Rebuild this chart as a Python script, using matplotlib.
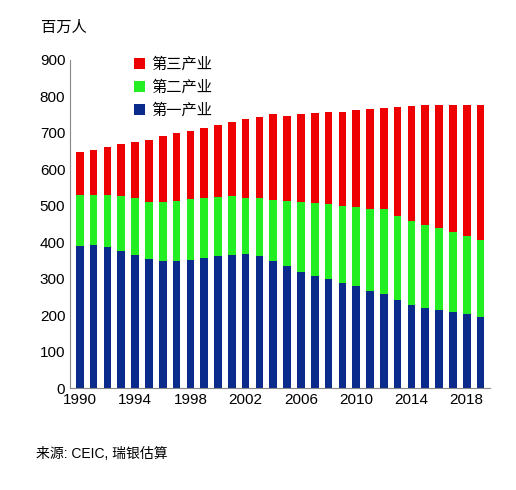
import matplotlib
matplotlib.use("Agg")
import matplotlib.pyplot as plt
import numpy as np

plt.rcParams['font.family'] = ['Liberation Sans', 'Noto Sans CJK SC']

years = list(range(1990, 2020))
total = [647, 654, 661, 668, 674, 680, 690, 698, 706, 714, 721, 730, 737, 744, 752,
         746, 750, 754, 756, 758, 761, 764, 767, 770, 772, 775, 776, 777, 776, 775]
primary = [389, 391, 387, 377, 366, 355, 348, 348, 352, 357, 361, 365, 368, 362, 348,
           335, 319, 308, 299, 289, 279, 266, 258, 241, 228, 219, 215, 209, 203, 194]
sec_top = [529, 530, 530, 526, 522, 511, 509, 514, 519, 522, 523, 526, 522, 520, 516,
           512, 510, 508, 505, 500, 497, 490, 490, 472, 458, 448, 440, 428, 418, 407]
secondary = [s - p for s, p in zip(sec_top, primary)]
tertiary = [t - s for t, s in zip(total, sec_top)]

fig = plt.figure(figsize=(5.16, 4.9), dpi=100)
ax = fig.add_axes([0.136, 0.208, 0.814, 0.67])
x = np.arange(len(years))
w = 0.55
b1 = ax.bar(x, primary, w, color='#0a2a8c', label='第一产业')
b2 = ax.bar(x, secondary, w, bottom=primary, color='#22ee22', label='第二产业')
b3 = ax.bar(x, tertiary, w, bottom=sec_top, color='#ee0000', label='第三产业')

ax.set_ylim(0, 900)
ax.set_yticks(range(0, 901, 100))
ax.set_xlim(-0.7, len(years) - 0.3)
ax.set_xticks(x[::4])
ax.set_xticklabels([str(y) for y in years[::4]])
ax.tick_params(labelsize=11, length=0)
for s in ['top', 'right']:
    ax.spines[s].set_visible(False)
for s in ['left', 'bottom']:
    ax.spines[s].set_color('#888888')

ax.legend(handles=[b3, b2, b1], loc='upper left', bbox_to_anchor=(0.12, 1.05),
          frameon=False, fontsize=11, handlelength=0.7, handleheight=0.7,
          labelspacing=0.55, handletextpad=0.4)

fig.text(0.08, 0.935, '百万人', fontsize=11)
fig.text(0.07, 0.065, '来源: CEIC, 瑞银估算', fontsize=10)
fig.savefig('out.png', dpi=100)
